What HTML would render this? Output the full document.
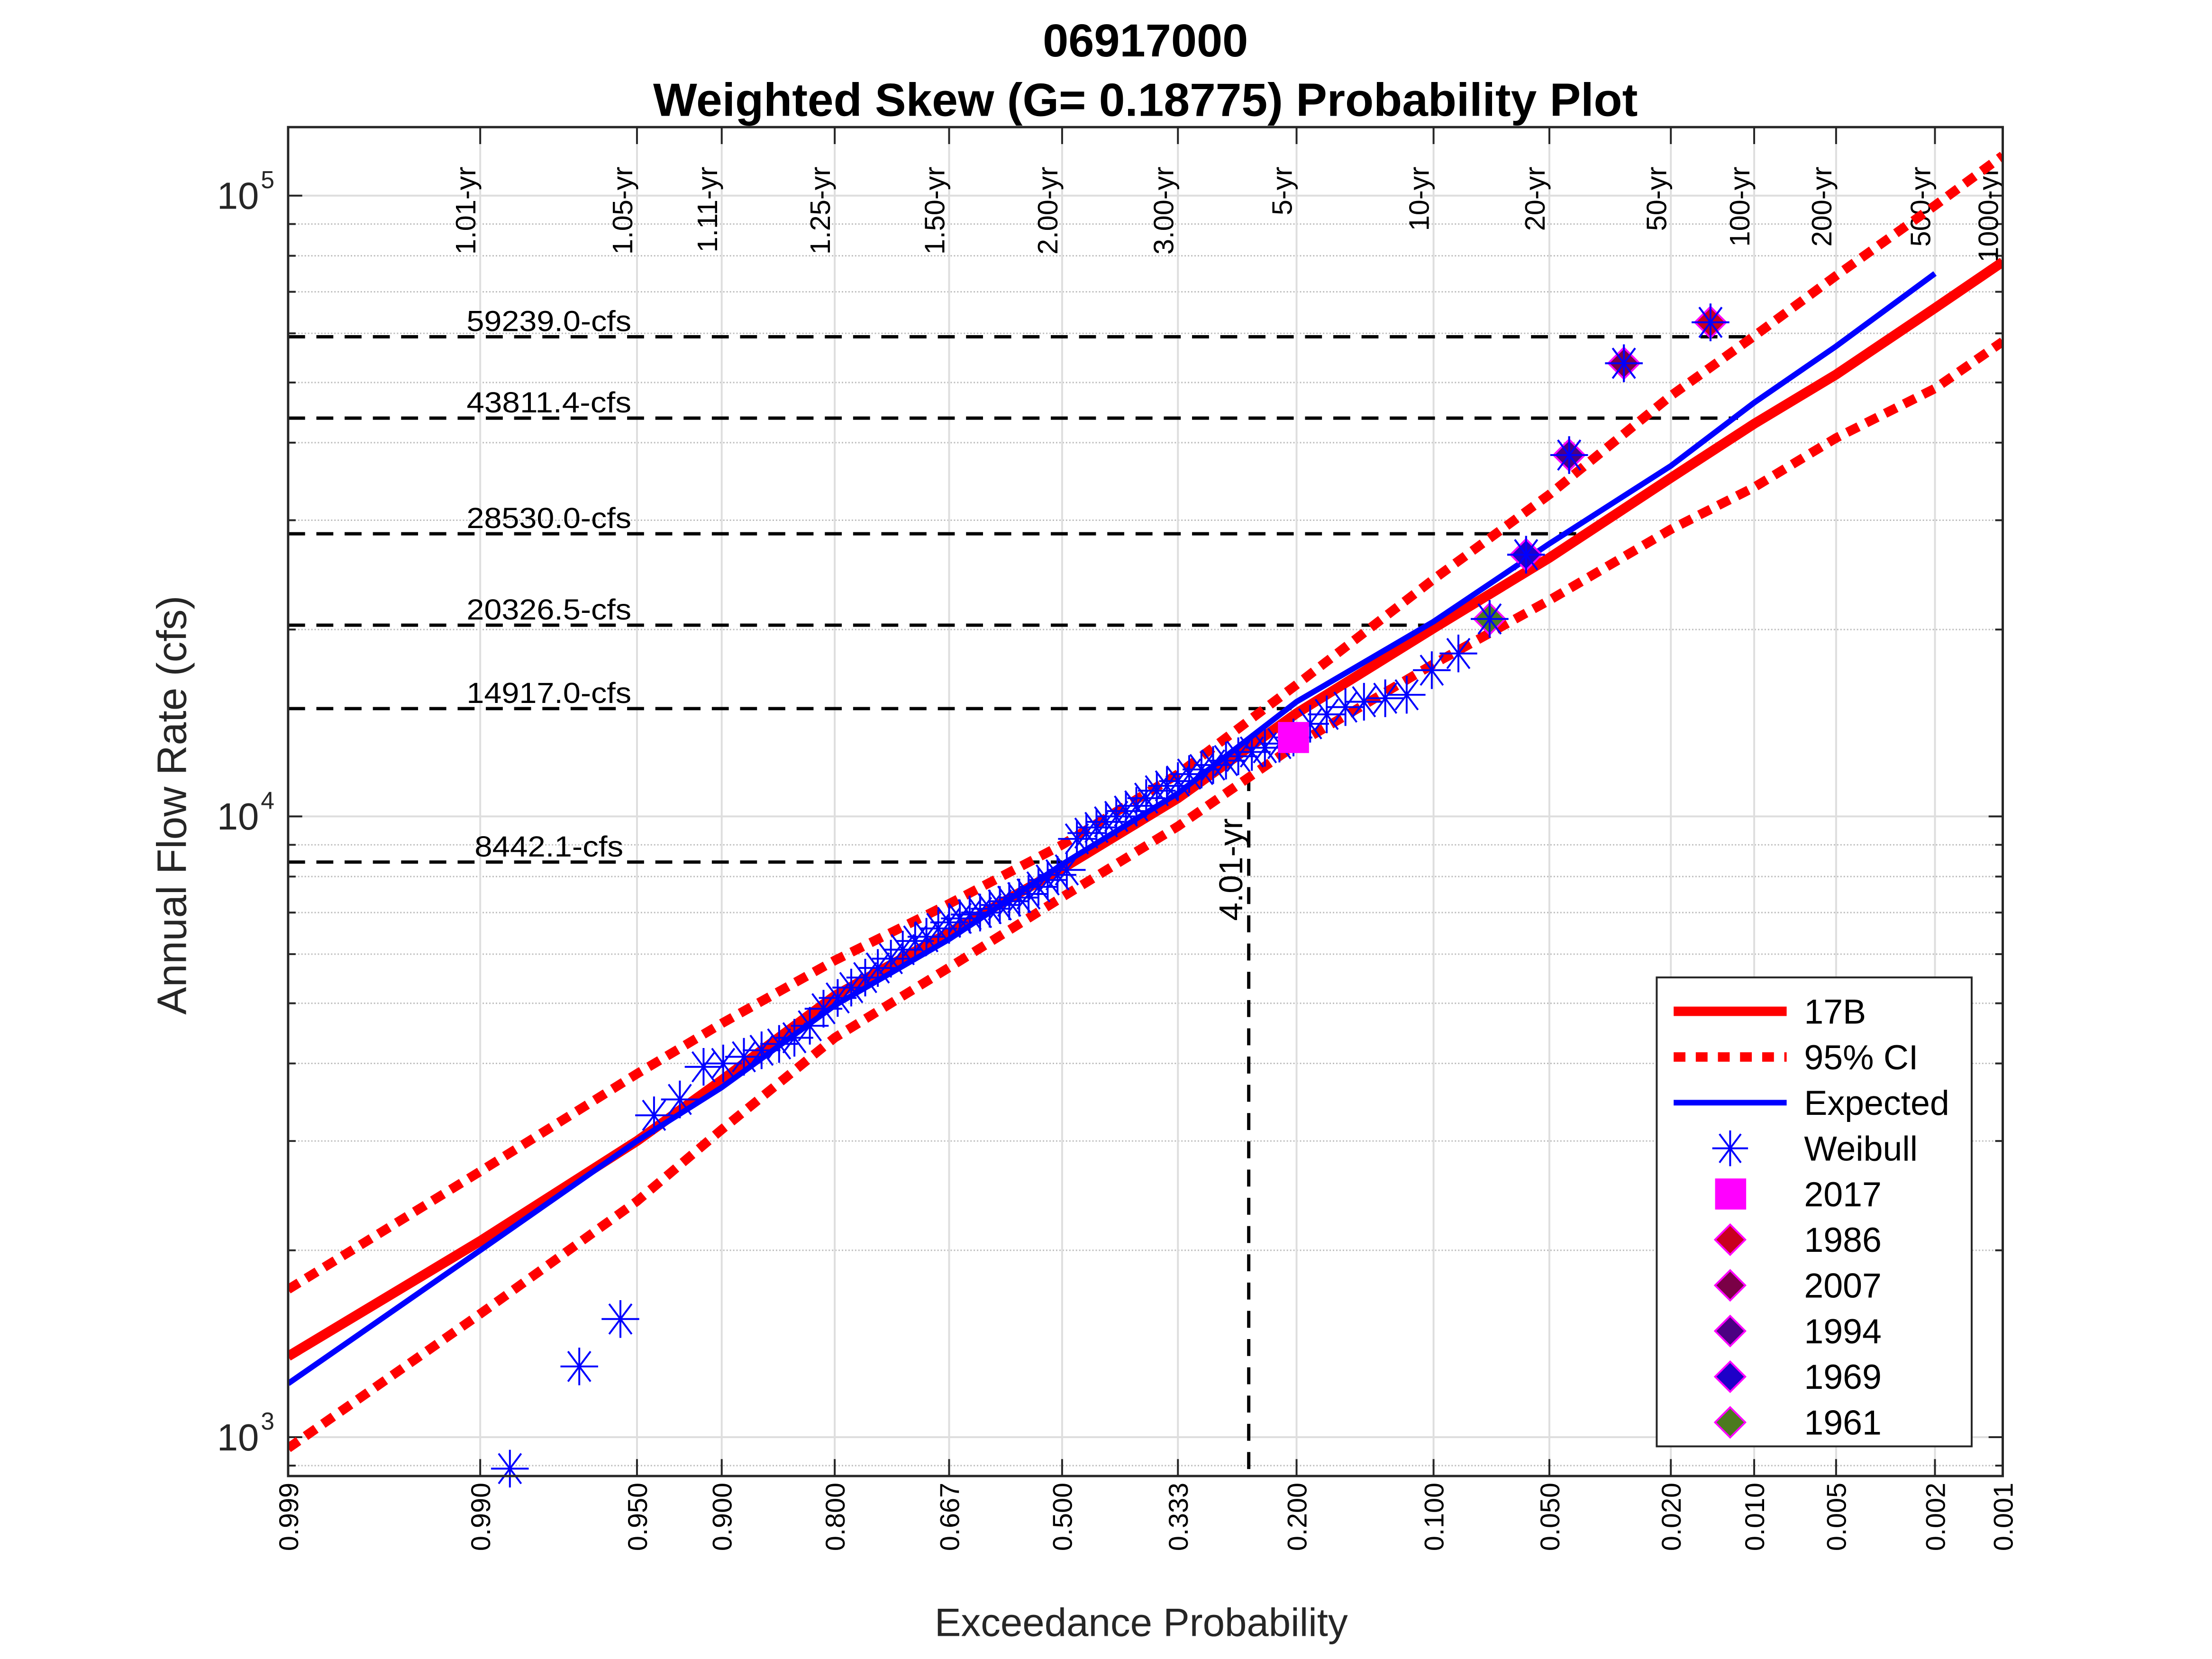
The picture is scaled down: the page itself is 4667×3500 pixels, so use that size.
<!DOCTYPE html>
<html><head><meta charset="utf-8"><style>
html,body{margin:0;padding:0;background:#fff;}
svg{display:block;font-family:"Liberation Sans",sans-serif;}
</style></head><body>
<svg id="chart" width="4667" height="3500" viewBox="0 0 4667 3500"><g id="root" transform="scale(0.9933)"></g></svg>
<script>
// ---- data ----
const tickProbs = [0.999,0.99,0.95,0.9,0.8,0.667,0.5,0.333,0.2,0.1,0.05,0.02,0.01,0.005,0.002,0.001];
const tickLabels = ["0.999","0.990","0.950","0.900","0.800","0.667","0.500","0.333","0.200","0.100","0.050","0.020","0.010","0.005","0.002","0.001"];
const periodLabels = ["","1.01-yr","1.05-yr","1.11-yr","1.25-yr","1.50-yr","2.00-yr","3.00-yr","5-yr","10-yr","20-yr","50-yr","100-yr","200-yr","500-yr","1000-yr"];
const curveProbs = [0.999,0.99,0.95,0.9,0.8,0.667,0.5,0.333,0.2,0.1,0.05,0.02,0.01,0.005,0.002,0.001];
const fit17B = [1350,2070,3000,3760,5140,6500,8240,10700,14660,20090,26100,35100,42900,51500,65900,78200];
const ciUpper = [1730,2680,3850,4640,5860,7230,9000,11700,16300,24100,33000,47600,59400,74300,96400,116000];
const ciLower = [960,1580,2400,3130,4400,5710,7410,9640,13060,17600,22300,29000,33900,40700,48900,58200];
const expProbs = [0.999,0.99,0.95,0.9,0.8,0.667,0.5,0.333,0.2,0.1,0.05,0.02,0.01,0.005,0.002];
const expected = [1220,2000,3000,3660,4960,6340,8370,10900,15300,20600,27500,36700,46400,57200,74900];
const weibullProbs = [0.0145,0.029,0.0435,0.058,0.0725,0.087,0.101,0.116,0.130,0.145,0.159,0.174,0.188,0.203,0.217,0.232,0.246,0.261,0.275,0.290,0.304,0.319,0.333,0.348,0.362,0.377,0.391,0.406,0.420,0.435,0.449,0.464,0.478,0.493,0.507,0.522,0.536,0.551,0.565,0.580,0.594,0.609,0.623,0.638,0.652,0.667,0.681,0.696,0.710,0.725,0.739,0.754,0.768,0.783,0.797,0.812,0.826,0.841,0.855,0.870,0.884,0.899,0.913,0.928,0.942,0.957,0.971,0.986];
const weibullFlows = [62500,53700,38200,26400,20800,18300,17200,15700,15500,15300,15000,14600,14100,13400,13100,12900,12700,12500,12300,12100,11900,11700,11400,11200,11000,10700,10400,10200,10000,9800,9600,9400,9200,8200,8050,7900,7700,7500,7400,7300,7200,7100,7000,6950,6850,6750,6600,6400,6300,6100,5900,5700,5500,5300,5100,4900,4600,4400,4300,4200,4100,4000,3950,3500,3300,1550,1300,890];
const eventYears = ["1986","2007","1994","1969","1961"];
const eventProbs = [0.0145,0.029,0.0435,0.058,0.0725];
const eventFlows = [62500,53700,38200,26400,20800];
const eventColors = ["#c8001e","#7a0046","#4b0082","#1e00c8","#4b7a1e"];
const squareYear = "2017", squareProb = 0.203, squareFlow = 13400;
const refFlows = [59239.0,43811.4,28530.0,20326.5,14917.0,8442.1];
const refEndProbs = [0.0098,0.0115,0.04,0.1,0.205,0.5];
const designProb = 0.2494, designFlow = 11700, designLabel = "4.01-yr";

// ---- axes ----
const L=612,R=4254,T=270,B=3135;
const decPx=1318.5;
function yS(v){return 1734-(Math.log10(v)-4)*decPx;}
function zOf(p){
  const q=1-p;
  const a=[-39.69683028665376,220.9460984245205,-275.9285104469687,138.3577518672690,-30.66479806614716,2.506628277459239];
  const b=[-54.47609879822406,161.5858368580409,-155.6989798598866,66.80131188771972,-13.28068155288572];
  const c=[-0.007784894002430293,-0.3223964580411365,-2.400758277161838,-2.549732539343734,4.374664141464968,2.938163982698783];
  const d=[0.007784695709041462,0.3224671290700398,2.445134137142996,3.754408661907416];
  let r,x;
  if(q<0.02425){x=Math.sqrt(-2*Math.log(q));return (((((c[0]*x+c[1])*x+c[2])*x+c[3])*x+c[4])*x+c[5])/((((d[0]*x+d[1])*x+d[2])*x+d[3])*x+1);}
  if(q>1-0.02425){x=Math.sqrt(-2*Math.log(1-q));return -(((((c[0]*x+c[1])*x+c[2])*x+c[3])*x+c[4])*x+c[5])/((((d[0]*x+d[1])*x+d[2])*x+d[3])*x+1);}
  x=q-0.5;r=x*x;return (((((a[0]*r+a[1])*r+a[2])*r+a[3])*r+a[4])*r+a[5])*x/(((((b[0]*r+b[1])*r+b[2])*r+b[3])*r+b[4])*r+1);
}
const anchorPx=[612,1020,1353,1533,1773,2016,2256,2502,2754,3045,3291,3549,3726,3900,4110,4254];
const anchorZ=tickProbs.map(zOf);
function xS(p){
  const z=zOf(p);
  for(let i=0;i<anchorZ.length-1;i++){
    if(z<=anchorZ[i+1]||i===anchorZ.length-2){
      return anchorPx[i]+(z-anchorZ[i])/(anchorZ[i+1]-anchorZ[i])*(anchorPx[i+1]-anchorPx[i]);
    }
  }
}
const NS="http://www.w3.org/2000/svg";
const svg=document.getElementById('root');
function mk(tag,attrs,parent,text){
  const e=document.createElementNS(NS,tag);
  for(const k in attrs)e.setAttribute(k,attrs[k]);
  if(text!==undefined)e.textContent=text;
  (parent||svg).appendChild(e);return e;
}
let el;
const grid=mk('g',{});


for(let d=2;d<=5;d++){for(let k=1;k<=9;k++){const v=k*Math.pow(10,d);const y=yS(v);if(y<T||y>B)continue;
  if(k===1){el=mk('line',{x1:L,x2:R,y1:y,y2:y,stroke:'#dedede','stroke-width':4},grid);
    
    }
  else{el=mk('line',{x1:L,x2:R,y1:y,y2:y,stroke:'#bdbdbd','stroke-width':3,'stroke-dasharray':'3 4'},grid);
    
    }
  const tl=k===1?30:16;
  el=mk('line',{x1:L,x2:L+tl,y1:y,y2:y,stroke:'#262626','stroke-width':4},grid);
  
  
  el=mk('line',{x1:R-tl,x2:R,y1:y,y2:y,stroke:'#262626','stroke-width':4},grid);
  
  
}}
tickProbs.forEach((p,i)=>{
  const x=xS(p);
  el=mk('line',{x1:x,x2:x,y1:T,y2:B,stroke:'#dedede','stroke-width':4},grid);
  
  
  el=mk('line',{x1:x,x2:x,y1:B-36,y2:B,stroke:'#262626','stroke-width':4},grid);
  
  
  el=mk('line',{x1:x,x2:x,y1:T,y2:T+36,stroke:'#262626','stroke-width':4},grid);
  
  
  el=mk('text',{x:0,y:0,'font-size':58,'text-anchor':'end',transform:`translate(${x+21},${B+14}) rotate(-90)`,fill:'#000'},svg,tickLabels[i]);
  
  
  if(periodLabels[i]){
    el=mk('text',{x:0,y:0,'font-size':60,'text-anchor':'end',transform:`translate(${x-10},${354}) rotate(-90)`,fill:'#000'},svg,periodLabels[i]);
    
    
  }
});
[5,4,3].forEach((e)=>{
  const y=yS(Math.pow(10,e));
  el=mk('text',{x:550,y:y+28,'font-size':80,'text-anchor':'end',fill:'#262626'},svg,'10');
  
  
  el=mk('text',{x:554,y:y-16,'font-size':52,fill:'#262626'},svg,String(e));
  
  
});
refFlows.forEach((v,i)=>{
  const y=yS(v);
  el=mk('line',{x1:L,x2:xS(refEndProbs[i]),y1:y,y2:y,stroke:'#000','stroke-width':7,'stroke-dasharray':'36 24'});
  
  
  el=mk('text',{x:1166,y:y-12,'font-size':62,'text-anchor':'middle',fill:'#000','textLength':350,'lengthAdjust':'spacingAndGlyphs'},svg,v.toFixed(1)+'-cfs');
  if(i===5)el.setAttribute('textLength',316);
  
  
});
const dx=xS(designProb);
el=mk('line',{x1:dx,x2:dx,y1:yS(designFlow),y2:B,stroke:'#000','stroke-width':7,'stroke-dasharray':'36 24'});


el=mk('text',{x:0,y:0,'font-size':70,'text-anchor':'end',transform:`translate(${dx-14},${1738}) rotate(-90)`,fill:'#000'},svg,designLabel);


function pathOf(ps,vs){return ps.map((p,i)=>(i?'L':'M')+xS(p).toFixed(1)+' '+yS(vs[i]).toFixed(1)).join(' ');}
const clip=mk('clipPath',{id:'pc'});mk('rect',{x:L,y:T,width:R-L,height:B-T},clip);
el=mk('path',{d:pathOf(curveProbs,fit17B),fill:'none',stroke:'#ff0000','stroke-width':21,'clip-path':'url(#pc)'});


el=mk('path',{d:pathOf(curveProbs,ciUpper),fill:'none',stroke:'#ff0000','stroke-width':20,'stroke-dasharray':'27 18','clip-path':'url(#pc)'});


el=mk('path',{d:pathOf(curveProbs,ciLower),fill:'none',stroke:'#ff0000','stroke-width':20,'stroke-dasharray':'27 18','clip-path':'url(#pc)'});


el=mk('path',{d:pathOf(expProbs,expected),fill:'none',stroke:'#0000ff','stroke-width':12,'clip-path':'url(#pc)'});


function star(cx,cy,r,parent){
  const g=mk('g',{stroke:'#0000ff','stroke-width':4},parent);
  mk('line',{x1:cx-r,x2:cx+r,y1:cy,y2:cy},g);mk('line',{x1:cx,x2:cx,y1:cy-r,y2:cy+r},g);
  const s=r*0.8,t=r*0.6;
  mk('line',{x1:cx-t,x2:cx+t,y1:cy-s,y2:cy+s},g);mk('line',{x1:cx-t,x2:cx+t,y1:cy+s,y2:cy-s},g);
  return g;
}
weibullProbs.forEach((p,i)=>{
  el=star(xS(p),yS(weibullFlows[i]),40);
  
  
});
function diamond(cx,cy,r,fill,parent){
  return mk('polygon',{points:`${cx},${cy-r} ${cx+r},${cy} ${cx},${cy+r} ${cx-r},${cy}`,fill:fill,stroke:'#ff00ff','stroke-width':4},parent);
}
el=mk('rect',{x:xS(squareProb)-33,y:yS(squareFlow)-33,width:66,height:66,fill:'#ff00ff'});


eventProbs.forEach((p,i)=>{
  el=diamond(xS(p),yS(eventFlows[i]),33,eventColors[i]);
  
  
});
eventProbs.forEach((p,i)=>{el=star(xS(p),yS(eventFlows[i]),40);
  
  });
el=mk('rect',{x:L,y:T,width:R-L,height:B-T,fill:'none',stroke:'#262626','stroke-width':5});


const lg=mk('g',{});


mk('rect',{x:3519,y:2076,width:669,height:996,fill:'#fff',stroke:'#262626','stroke-width':4},lg);
const legNames=["17B","95% CI","Expected","Weibull","2017","1986","2007","1994","1969","1961"];
legNames.forEach((n,i)=>{
  const y=2148+i*97;
  let m;
  if(i===0)m=mk('line',{x1:3555,x2:3795,y1:y,y2:y,stroke:'#ff0000','stroke-width':20},lg);
  else if(i===1)m=mk('line',{x1:3555,x2:3795,y1:y,y2:y,stroke:'#ff0000','stroke-width':20,'stroke-dasharray':'25 22'},lg);
  else if(i===2)m=mk('line',{x1:3555,x2:3795,y1:y,y2:y,stroke:'#0000ff','stroke-width':12},lg);
  else if(i===3)m=star(3675,y,38,lg);
  else if(i===4)m=mk('rect',{x:3643,y:y-33,width:66,height:66,fill:'#ff00ff'},lg);
  else m=diamond(3675,y,32,eventColors[i-5],lg);
  
  
  const t=mk('text',{x:3832,y:y+26,'font-size':74,fill:'#000'},lg,n);
  
  
});
el=mk('text',{x:2433,y:120,'font-size':98,'font-weight':'bold','text-anchor':'middle',fill:'#000'},svg,'06917000');


el=mk('text',{x:2433,y:246,'font-size':99,'font-weight':'bold','text-anchor':'middle',fill:'#000'},svg,'Weighted Skew (G= 0.18775) Probability Plot');


el=mk('text',{x:0,y:0,'font-size':88,'text-anchor':'middle',transform:'translate(395,1710) rotate(-90)',fill:'#262626'},svg,'Annual Flow Rate (cfs)');


el=mk('text',{x:2424,y:3475,'font-size':84,'text-anchor':'middle',fill:'#262626'},svg,'Exceedance Probability');


</script>
</body></html>
